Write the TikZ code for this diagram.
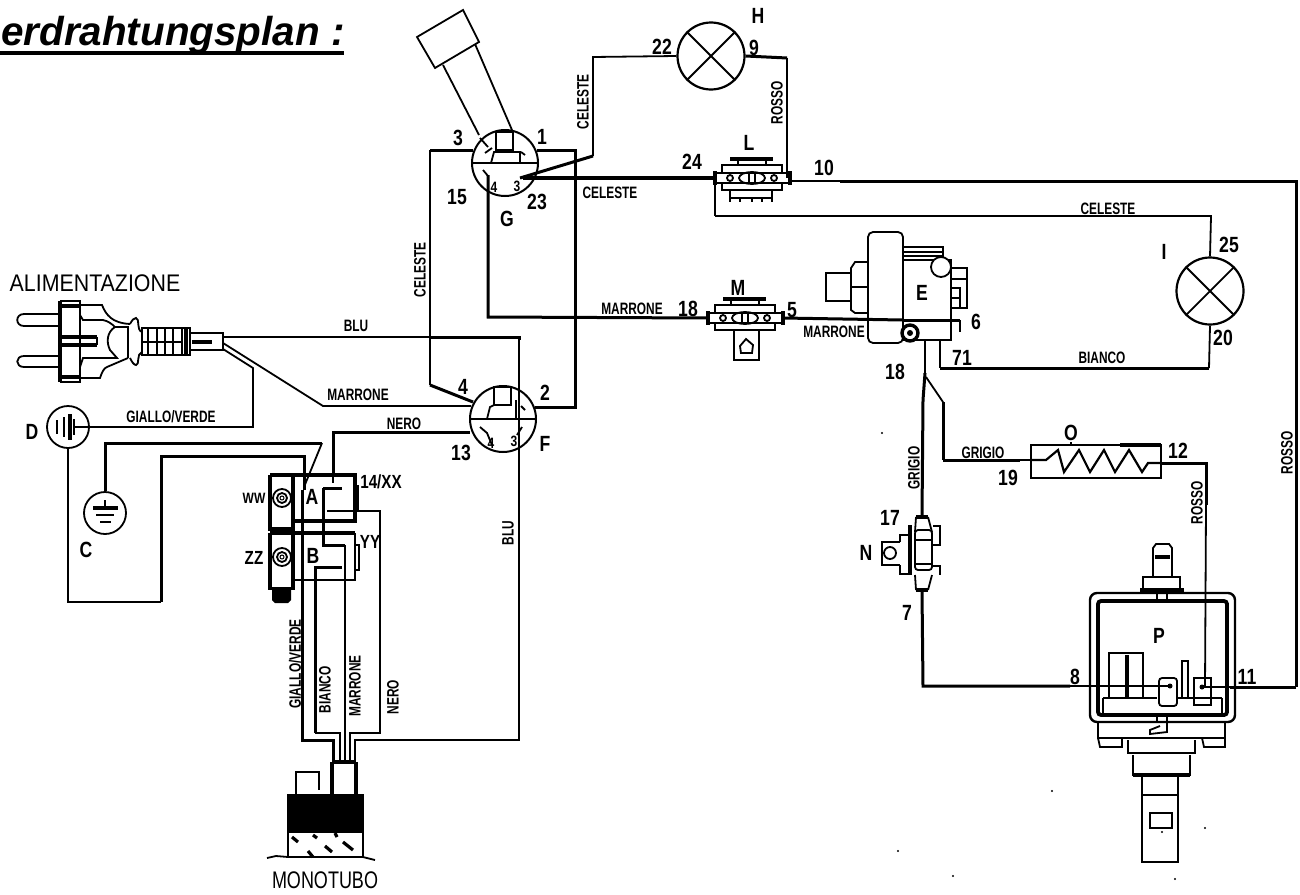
\documentclass[tikz,border=0pt]{standalone}
\usepackage{fontspec}
\setmainfont{Liberation Sans}
\newfontfamily\lblfont[FakeStretch=0.72]{Liberation Sans}
\newfontfamily\numfont[FakeStretch=0.8]{Liberation Sans Bold}
\newfontfamily\capfont[FakeStretch=0.89]{Liberation Sans}
\newfontfamily\capnfont[FakeStretch=0.75]{Liberation Sans}
\newfontfamily\ttlfont{Liberation Sans Bold Italic}
\usetikzlibrary{calc}
\tikzset{
 thinw/.style={line width=1.8pt,black,line join=miter},
 thickw/.style={line width=3pt,black,line join=miter},
 dev/.style={line width=1.8pt,black},
 devk/.style={line width=3.4pt,black},
 lamp/.style={circle,draw,line width=2.2pt,minimum size=67pt,inner sep=0pt},
 disc/.style={circle,draw,line width=1.8pt,minimum size=42pt,inner sep=0pt},
 sw/.style={circle,draw,line width=2pt,minimum size=66pt,inner sep=0pt},
 wlab/.style={font=\lblfont\bfseries\fontsize{16.5}{16.5}\selectfont,inner sep=0pt},
 num/.style={font=\numfont\fontsize{22}{22}\selectfont,inner sep=0pt},
 snum/.style={font=\numfont\fontsize{19}{19}\selectfont,inner sep=0pt},
 wwnum/.style={font=\numfont\fontsize{15}{15}\selectfont,inner sep=0pt},
 tiny/.style={font=\numfont\fontsize{15}{15}\selectfont,inner sep=0pt},
 captext/.style={font=\capfont\fontsize{24}{24}\selectfont,inner sep=0pt},
 captextn/.style={font=\capnfont\fontsize{24}{24}\selectfont,inner sep=0pt},
}
\newcommand{\ptconn}[2]{%
 \begin{scope}[shift={(#1,#2)}]
 \draw[dev] (-37,-5) rectangle (38,5);
 \draw[devk] (-37,-7) -- (-37,7) (38,-7) -- (38,7);
 \draw[dev] (-30,-13) rectangle (30,-5) (-30,5) rectangle (30,12);
 \draw[devk] (-22,-19) -- (21,-19);
 \draw[dev] (-14,-19) -- (-14,-13) (14,-19) -- (14,-13);
 \draw[dev] (0,0) ellipse [x radius=13pt,y radius=6pt];
 \draw[dev] (-22,0) circle [radius=3pt] (22,0) circle [radius=3pt];
 \draw[dev] (-3,-4) -- (-3,4) (3,-4) -- (3,4);
 \end{scope}}
\begin{document}
\begin{tikzpicture}[x=1pt,y=-1pt]
\useasboundingbox (0,0) rectangle (1300,894);
% ---- title
\node[anchor=base west,inner sep=0pt,font=\ttlfont\fontsize{40.4}{40}\selectfont] (title) at (1,45) {erdrahtungsplan :};
\draw[line width=4pt] (0,53) -- (344,53);
% ---- round devices
\node[lamp] (H) at (711,56) {};
\node[lamp] (I) at (1210,291) {};
\node[sw] (G) at (505,163) {};
\node[sw] (F) at (503,419) {};
\node[disc] (D) at (68,427) {};
\node[disc] (C) at (105,513) {};
\foreach \l in {H,I}{
 \draw[dev] (\l.45) -- (\l.225) (\l.135) -- (\l.315);
}
% G inner
\draw[dev] (G.west) -- (G.east);
\draw[dev] (496,132) rectangle (513,150);
\draw[dev] (491,163) -- (494,152) -- (520,152) -- (520,163);
\draw[dev] (480,138) -- (488,147) (485,153) -- (492,148) (521,152) -- (525,155);
\draw[dev] (483,170) -- (488,176);
\node[tiny] (g4) at (494,187) {4};
\node[tiny] (g3) at (517,186) {3};
% F inner
\draw[dev] (F.west) -- (F.east);
\draw[dev] (494,387) rectangle (511,405);
\draw[dev] (487,419) -- (490,407) -- (494,405) (516,400) -- (516,419);
\draw[dev] (521,406) -- (525,410);
\draw[dev] (480,427) -- (487,433) -- (492,445);
\draw[dev] (522,427) -- (517,435);
\node[tiny] (f4) at (491,443) {4};
\node[tiny] (f3) at (514,441) {3};
% ---- handle on G
\coordinate (ha) at (417,37);\coordinate (hb) at (463,10);\coordinate (hc) at (479,42);\coordinate (hd) at (435,68);
\draw[dev] (ha) -- (hb) -- (hc) -- (hd) -- cycle;
\draw[dev] (443,65) -- (479,135);
\draw[dev] (475,44) -- (512,130);
% ---- symbols in D and C
\draw[dev] (57,420) -- (57,434) (64,417) -- (64,437);
\draw[devk] (70,414) -- (70,440);
\draw[dev] (74,419) -- (74,435) (74,427) -- (D.east);
\draw[dev] (105,500) -- (105,508);
\draw[devk] (93,508) -- (118,508);
\draw[dev] (96,515) -- (114,515) (100,522) -- (111,522);
% ---- plug
\draw[dev] (60,314) -- (24,314) .. controls (15,314) and (15,326) .. (24,326) -- (60,326);
\draw[dev] (60,356) -- (24,356) .. controls (15,356) and (15,367) .. (24,367) -- (60,367);
\draw[devk] (60,301) -- (60,382);
\draw[dev] (60,301) -- (80,301) -- (80,382) -- (60,382);
\draw[devk] (60,306) -- (80,306) (60,377) -- (80,377);
\draw[devk] (62,337) -- (97,337) (62,345) -- (97,345);
\draw[dev] (97,337) -- (97,345);
\draw[dev] (80,305) -- (102,305) .. controls (106,315) and (112,323) .. (130,324);
\draw[dev] (80,315) -- (83,320) -- (103,320) .. controls (108,321) and (112,324) .. (115,327) .. controls (107,332) and (106,342) .. (110,350) -- (117,358) -- (83,358) -- (80,367);
\draw[dev] (80,378) -- (100,378) .. controls (102,372) and (104,368) .. (107,367) -- (128,358);
\draw[dev] (115,327) -- (128,327) -- (128,358);
\draw[dev] (130,324) .. controls (132,320) and (134,318) .. (136,318) .. controls (140,318) and (136,330) .. (142,332) -- (142,352) .. controls (136,354) and (140,365) .. (136,365) .. controls (134,365) and (132,362) .. (130,358);
\draw[dev] (142,328) rectangle (190,355);
\foreach \x in {148,157,165,173,182}{\draw[dev] (\x,329) -- (\x,355);}
\draw[dev] (142,342) -- (182,342);
\draw[devk] (186,329) -- (186,355);
\draw[dev] (190,333) -- (223,333) -- (223,350) -- (190,350);
\draw[devk] (192,342) -- (212,342);
\coordinate (plugB) at (223,337);
\coordinate (plugM) at (223,343);
\coordinate (plugG) at (223,349);
% ---- blocks A, B
\draw[devk] (270,475) -- (355,475) -- (355,521) -- (293,521);
\draw[devk] (270,475) -- (270,529) -- (293,529) -- (293,475);
\draw[devk] (293,533) -- (355,533);
\draw[dev] (355,533) -- (355,580) -- (293,580);
\draw[devk] (270,533) -- (293,533) -- (293,590) (270,533) -- (270,590);
\draw[dev] (358,485) -- (358,512) (355,545) -- (359,545) -- (359,570) -- (355,570);
\fill (272,587) -- (291,587) -- (291,600) -- (288,603) -- (275,603) -- (272,600) -- cycle;
\foreach \y in {498,557}{
 \draw[dev] (282,\y) circle [radius=9pt] (282,\y) circle [radius=5pt];
 \draw[line width=1pt] (282,\y) circle [radius=2pt];
}
\coordinate (Atop) at (333,475);
\coordinate (Aleft) at (304,487);
% ---- monotube
\draw[devk] (332,762) -- (356,762) (332,762) -- (332,794) (356,762) -- (356,794);
\coordinate (mg) at (333,762);\coordinate (mb) at (340,762);\coordinate (mm) at (345,762);\coordinate (mn) at (350,762);\coordinate (ml) at (355,762);
\draw[dev] (296,794) -- (296,772) -- (319,772) -- (319,790);
\fill (287,794) rectangle (364,833);
\draw[dev] (288,833) -- (288,857) (363,833) -- (363,857);
\draw[dev] (267,858) -- (276,856) -- (288,857) -- (363,857) -- (375,860);
\foreach \a/\b/\c/\d in {292/837/298/842,313/835/317/838,325/846/332/852,343/842/353/850,308/851/313/857,335/833/337/837}{
 \draw[line width=3.2pt] (\a,\b) -- (\c,\d);
}
% ---- L, M connectors
\ptconn{752}{178}
\ptconn{745}{318}
\coordinate (Lw) at (715,178);\coordinate (Le) at (787,178);\coordinate (Lo) at (790,181);
\coordinate (Mw) at (708,318);\coordinate (Me) at (783,318);
\draw[dev] (730,190) -- (730,202) (772,190) -- (772,202) (730,198) -- (772,198);
\draw[dev] (740,198) -- (740,202) (752,198) -- (752,202) (762,198) -- (762,202);
\draw[dev] (734,330) -- (734,360) -- (759,360) -- (759,330);
\draw[dev] (740,346) -- (746,339) -- (753,345) -- (752,353) -- (741,353) -- cycle;
% ---- N connector
\coordinate (Nt) at (922,516);\coordinate (Nb) at (922,592);
\draw[devk] (916,517) -- (928,517) (916,590) -- (928,590);
\draw[dev] (916,517) -- (915,532) (928,517) -- (932,532);
\draw[dev] (916,590) -- (915,575) (928,590) -- (932,575);
\draw[dev,rounded corners=3pt] (915,530) rectangle (932,570);
\draw[dev] (915,540) -- (932,540) (915,564) -- (932,564);
\draw[devk] (910,525) -- (910,575);
\draw[dev] (933,526) -- (940,526) -- (940,545) -- (933,545) (933,566) -- (940,566) -- (940,575);
\draw[dev] (900,542) -- (882,542) -- (882,565) -- (900,565);
\draw[dev] (900,542) -- (900,535) -- (910,535) (900,565) -- (900,574) -- (910,574);
\draw[dev] (890,553) circle [radius=6pt];
% ---- E valve
\draw[dev,rounded corners=5pt] (868,232) rectangle (903,343);
\draw[dev] (868,320) -- (903,320);
\draw[dev] (903,260) -- (951,260) -- (951,340) -- (903,340);
\draw[dev] (868,262) -- (855,262) -- (851,268) -- (851,310) -- (855,313) -- (868,313);
\draw[dev] (851,287) -- (868,287);
\draw[dev] (851,273) -- (826,273) -- (826,301) -- (851,301);
\draw[dev] (903,247) -- (943,247) -- (943,260) (903,252) -- (943,252) (903,256) -- (943,256);
\draw[dev,fill=white] (941,267) circle [radius=10pt];
\draw[dev] (951,268) -- (967,268) -- (967,308) -- (951,308) (951,279) -- (967,279);
\draw[dev] (951,288) -- (960,288) -- (960,308) (951,298) -- (960,298);
\draw[devk,fill=white] (910,333) circle [radius=8pt];
\fill (910,333) circle [radius=3pt];
\coordinate (Et) at (925,340);
\coordinate (Eb) at (940,340);
\coordinate (Ew) at (903,320);
\draw[line width=2.4pt] (960,320) -- (960,332);
% ---- O resistor
\draw[dev] (1031,445) rectangle (1161,478);
\draw[devk] (1120,445) -- (1161,445);
\coordinate (Ol) at (1031,460);
\coordinate (Or) at (1161,463);
\draw[dev] (1071,442) -- (1071,445);
\draw[line width=2.2pt,line join=miter] (Ol) -- (1046,460) -- (1058,450) -- (1064,472) -- (1079,450) -- (1090,472) -- (1104,450) -- (1115,472) -- (1129,450) -- (1142,472) -- (1148,463) -- (Or);
% ---- P pressure switch
\draw[line width=2.4pt,rounded corners=7pt] (1090,593) rectangle (1235,722);
\draw[line width=3.8pt,rounded corners=3pt] (1098,601) rectangle (1227,715);
\draw[dev] (1153,577) -- (1153,548) -- (1156,544) -- (1169,544) -- (1172,548) -- (1172,577);
\draw[devk] (1155,557) -- (1170,557);
\draw[dev] (1143,590) -- (1143,577) -- (1180,577) -- (1180,590);
\draw[devk] (1140,590) -- (1184,590);
\draw[dev] (1157,593) -- (1157,601) (1167,593) -- (1167,601);
\draw[dev] (1109,698) -- (1109,653) -- (1143,653) -- (1143,698);
\draw[line width=4.4pt] (1127,655) -- (1127,698);
\draw[dev] (1103,698) -- (1157,698) (1103,698) -- (1103,713) (1177,698) -- (1222,698) (1222,698) -- (1222,713);
\draw[dev,rounded corners=3pt] (1159,678) rectangle (1177,706);
\draw[dev] (1182,698) -- (1182,661) -- (1188,661) -- (1188,698);
\draw[dev] (1194,705) -- (1194,678) -- (1211,678) -- (1211,705) -- cycle;
\coordinate (Pl) at (1170,686);
\coordinate (Pr) at (1202,687);
\coordinate (Pt) at (1205,687);
\fill (1170,686) circle [radius=2.5pt] (1202,687) circle [radius=2.5pt];
\draw[dev] (1098,722) -- (1098,738) -- (1225,738) -- (1225,722);
\draw[dev] (1157,715) -- (1157,722) (1167,715) -- (1167,732) -- (1150,734) -- (1150,730) -- (1160,726);
\draw[dev] (1098,738) -- (1100,747) -- (1122,747) -- (1122,738);
\draw[dev] (1202,738) -- (1204,747) -- (1225,747) -- (1225,738);
\draw[dev] (1128,740) -- (1128,753) -- (1195,753) -- (1195,740);
\draw[dev] (1133,755) -- (1133,775) -- (1190,775) -- (1190,755);
\draw[devk] (1133,775) -- (1190,775);
\draw[dev] (1142,775) rectangle (1178,795);
\draw[line width=2.6pt] (1142,795) rectangle (1178,862);
\draw[dev] (1150,813) rectangle (1172,828);
% ---- terminal coordinates
\coordinate (G3t) at (473,150);\coordinate (G1t) at (537,150);\coordinate (G3a) at (520,178);\coordinate (G4a) at (488,175);\coordinate (G3b) at (523,178);
\coordinate (F4t) at (473,402);\coordinate (F2t) at (535,407);\coordinate (Fm) at (471,406);\coordinate (Fn) at (470,432);
% ---- wires
\draw[thinw] (plugB) -- (430,337);
\draw[thickw] (430,337) -- (519,337) -- (519,340);
\draw[thinw] (519,338) -- (519,740) -- (355,740) -- (ml);
\draw[thinw] (plugM) -- (323,406) -- (Fm);
\draw[thinw] (plugG) -- (253,368) -- (253,427) -- (D.east);
\draw[thinw] (D.south) -- (68,602) -- (161,602);
\draw[thickw] (161,602) -- (161,456) -- (304,456) -- (304,490);
\draw[thickw] (C.north) -- (105,443) -- (322,443);
\draw[thinw] (322,443) -- (Aleft);
\draw[thickw] (302,490) -- (302,740) -- (333,740) -- (mg);
\draw[thickw] (Fn) -- (333,432) -- (Atop);
\draw[thinw] (333,475) -- (333,483);
\draw[thickw] (323,488) -- (342,488);
\draw[thickw] (323,488) -- (323,545) -- (345,545);
\draw[thinw] (345,545) -- (mm);
\draw[thinw] (327,511) -- (380,511) -- (380,733) -- (350,733) -- (mn);
\draw[thickw] (342,567) -- (315,567) -- (315,733);
\draw[thinw] (315,733) -- (340,733) -- (mb);
% G connections
\draw[thickw] (G3t) -- (430,150);
\draw[thinw] (430,150) -- (430,385);
\draw[thickw] (430,385) -- (F4t);
\draw[thickw] (G1t) -- (575,150) -- (575,407) -- (F2t);
\draw[thickw] (G3a) -- (593,156);
\draw[thinw] (593,156) -- (593,57) -- (H.west);
\draw[line width=4pt] (G3b) -- (Lw);
\draw[thinw] (Lw) -- (715,216);
\draw[thinw] (715,216) -- (1211,216) -- (I.north);
\draw[thickw] (G4a) -- (488,317) -- (Mw);
\draw[thickw] (H.east) -- (787,58);
\draw[thinw] (787,58) -- (Le);
\draw[thinw] (Lo) -- (840,181);
\draw[thickw] (840,181) -- (1296,181) -- (1296,687);
\draw[thickw] (1296,687) -- (1230,687);
\draw[thinw] (1230,687) -- (Pr);
\draw[thickw] (Me) -- (Ew);
\draw[thickw] (Ew) -- (960,320);
\draw[thinw] (Et) -- (925,373);
\draw[thickw] (925,373) -- (923,400) -- (Nt);
\draw[thinw] (926,377) -- (943,402);
\draw[thickw] (943,402) -- (943,460);
\draw[thickw] (943,460) -- (1020,460);
\draw[thinw] (1020,460) -- (Ol);
\draw[thinw] (Eb) -- (940,368);
\draw[thickw] (940,368) -- (1209,368);
\draw[thinw] (1209,368) -- (I.south);
\draw[thickw] (Or) -- (1206,463) -- (1206,505);
\draw[thinw] (1206,505) -- (Pt);
\draw[thickw] (Nb) -- (923,686) -- (1070,686);
\draw[thinw] (1070,686) -- (Pl);
% ---- wire labels
\node[wlab] (t1) at (356,326) {BLU};
\node[wlab] (t2) at (358,395) {MARRONE};
\node[wlab] (t3) at (171,417) {GIALLO/VERDE};
\node[wlab] (t4) at (404,424) {NERO};
\node[wlab,rotate=90] (t5) at (508,533) {BLU};
\node[wlab,rotate=90] (t6) at (420,270) {CELESTE};
\node[wlab,rotate=90] (t7) at (583,102) {CELESTE};
\node[wlab,rotate=90] (t8) at (777,103) {ROSSO};
\node[wlab] (t9) at (610,193) {CELESTE};
\node[wlab] (t10) at (1108,209) {CELESTE};
\node[wlab] (t11) at (632,309) {MARRONE};
\node[wlab] (t12) at (834,332) {MARRONE};
\node[wlab] (t13) at (1102,358) {BIANCO};
\node[wlab] (t14) at (983,453) {GRIGIO};
\node[wlab,rotate=90] (t15) at (914,468) {GRIGIO};
\node[wlab,rotate=90] (t16) at (1197,503) {ROSSO};
\node[wlab,rotate=90] (t17) at (1287,453) {ROSSO};
\node[wlab,rotate=90] (t18) at (295,664) {GIALLO/VERDE};
\node[wlab,rotate=90] (t19) at (325,690) {BIANCO};
\node[wlab,rotate=90] (t20) at (355,686) {MARRONE};
\node[wlab,rotate=90] (t21) at (393,697) {NERO};
% ---- captions
\node[captext] (c1) at (95,283) {ALIMENTAZIONE};
\node[captextn] (c2) at (325,880) {MONOTUBO};
% ---- numbers / letters
\node[num] (n1) at (662,47) {22};
\node[num] (n2) at (754,48) {9};
\node[num] (n3) at (758,16) {H};
\node[num] (n4) at (458,138) {3};
\node[num] (n5) at (542,137) {1};
\node[num] (n6) at (457,197) {15};
\node[num] (n7) at (507,219) {G};
\node[num] (n8) at (537,202) {23};
\node[num] (n9) at (692,162) {24};
\node[num] (n10) at (824,168) {10};
\node[num] (n11) at (749,143) {L};
\node[num] (n12) at (738,288) {M};
\node[num] (n13) at (688,309) {18};
\node[num] (n14) at (792,310) {5};
\node[num] (n15) at (976,322) {6};
\node[num] (n16) at (922,293) {E};
\node[num] (n17) at (962,358) {71};
\node[num] (n18) at (895,372) {18};
\node[num] (n19) at (1164,252) {I};
\node[num] (n20) at (1229,245) {25};
\node[num] (n21) at (1223,338) {20};
\node[num] (n22) at (1071,433) {O};
\node[num] (n23) at (1178,451) {12};
\node[num] (n24) at (1008,478) {19};
\node[num] (n25) at (890,518) {17};
\node[num] (n26) at (866,553) {N};
\node[num] (n27) at (907,613) {7};
\node[num] (n28) at (1075,677) {8};
\node[num] (n29) at (1247,677) {11};
\node[num] (n30) at (1159,636) {P};
\node[num] (n31) at (463,387) {4};
\node[num] (n32) at (545,393) {2};
\node[num] (n33) at (461,453) {13};
\node[num] (n34) at (545,444) {F};
\node[num] (n35) at (32,432) {D};
\node[num] (n36) at (86,550) {C};
\node[wwnum] (n37) at (254,498) {WW};
\node[snum] (n38) at (254,558) {ZZ};
\node[snum] (n39) at (381,482) {14/XX};
\node[num] (n40) at (312,497) {A};
\node[num] (n41) at (313,556) {B};
\node[snum] (n42) at (370,542) {YY};
% ---- specks
\foreach \a/\b in {1052/791,898/851,953/876,1175/879,1205/828,1162/832,882/433}{\fill (\a,\b) circle [radius=1.2pt];}
\end{tikzpicture}
\end{document}
